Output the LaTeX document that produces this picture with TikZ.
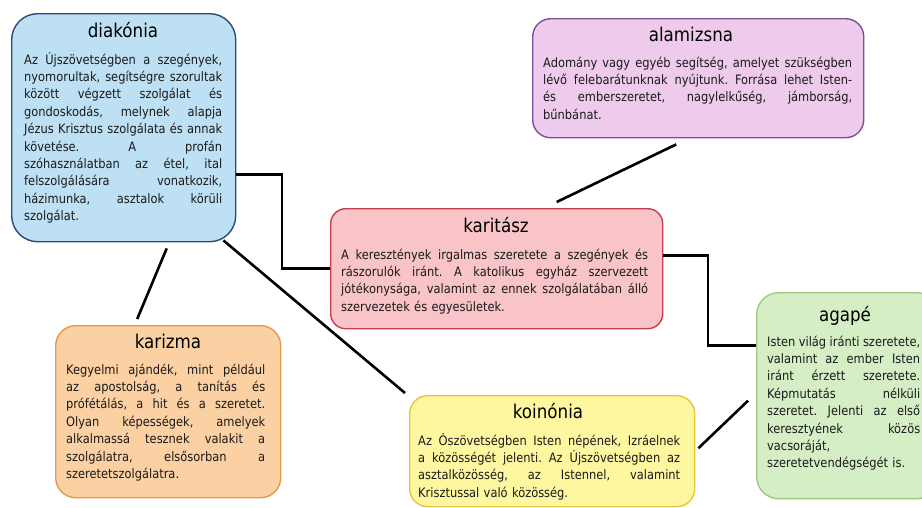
\documentclass[tikz,border=0pt]{standalone}
\usepackage{fontspec}
\setmainfont{DejaVu Sans}[FakeStretch=0.88]
\usetikzlibrary{calc}
\definecolor{diakF}{HTML}{BEE0F4}\definecolor{diakD}{HTML}{2B4A78}
\definecolor{alamF}{HTML}{EECBEC}\definecolor{alamD}{HTML}{7B4F9D}
\definecolor{karitF}{HTML}{F9C4C8}\definecolor{karitD}{HTML}{C63D4B}
\definecolor{karizF}{HTML}{FBD0A2}\definecolor{karizD}{HTML}{E39A4D}
\definecolor{koinF}{HTML}{FFF6A0}\definecolor{koinD}{HTML}{E5C53A}
\definecolor{agapeF}{HTML}{D6EEC6}\definecolor{agapeD}{HTML}{9DCB7E}
\definecolor{txt}{HTML}{1A1A1A}
\newcommand\JJ[1]{\leavevmode\hbox to \hsize{\spaceskip=0.28em plus 20em minus 0.06em\xspaceskip=\spaceskip #1}\par}
\newcommand\LL[1]{\leavevmode\hbox{#1}\par}
\tikzset{
  box/.style={draw, line width=1.4pt, inner sep=0pt, anchor=north west},
  ttl/.style={anchor=base, inner sep=0pt, text=black, font=\fontsize{19}{21}\selectfont},
  body/.style={anchor=base west, inner sep=0pt, align=left, text=txt, font=\frenchspacing\fontsize{13}{17.4}\selectfont},
  conn/.style={line width=2.6pt, black}
}
\begin{document}
\begin{tikzpicture}[x=1pt,y=1pt]
\useasboundingbox[fill=white] (0,0) rectangle (922,-507);
% boxes
\node[box, fill=diakF, draw=diakD, rounded corners=26pt, minimum width=224pt, minimum height=228pt] (diak) at (11,-13) {};
\node[box, fill=alamF, draw=alamD, rounded corners=18pt, minimum width=331pt, minimum height=119pt] (alam) at (532,-18) {};
\node[box, fill=karitF, draw=karitD, rounded corners=15pt, minimum width=332pt, minimum height=120pt] (karit) at (330,-208) {};
\node[box, fill=karizF, draw=karizD, rounded corners=20pt, minimum width=225pt, minimum height=172pt] (kariz) at (55,-325) {};
\node[box, fill=koinF, draw=koinD, rounded corners=18pt, minimum width=285pt, minimum height=111pt] (koin) at (409,-395) {};
\node[box, fill=agapeF, draw=agapeD, rounded corners=22pt, minimum width=182pt, minimum height=206pt] (agape) at (756,-292) {};
% titles
\node[ttl] (diakT) at (123,-37) {diakónia};
\node[ttl] (alamT) at (691,-41) {alamizsna};
\node[ttl] (karitT) at (496,-232) {karitász};
\node[ttl] (karizT) at (168,-348) {karizma};
\node[ttl] (koinT) at (548,-418) {koinónia};
\node[ttl] (agapeT) at (845,-321) {agapé};
% bodies
\node[body, text width=198pt] (diakB) at (24,-64) {%
\JJ{Az Újszövetségben a szegények,}
\JJ{nyomorultak, segítségre szorultak}
\JJ{között végzett szolgálat és}
\JJ{gondoskodás, melynek alapja}
\JJ{Jézus Krisztus szolgálata és annak}
\JJ{követése. A profán}
\JJ{szóhasználatban az étel, ital}
\JJ{felszolgálására vonatkozik,}
\JJ{házimunka, asztalok körüli}
\LL{szolgálat.}};
\node[body, text width=309pt] (alamB) at (543,-67) {%
\JJ{Adomány vagy egyéb segítség, amelyet szükségben}
\JJ{lévő felebarátunknak nyújtunk. Forrása lehet Isten-}
\JJ{és emberszeretet, nagylelkűség, jámborság,}
\LL{bűnbánat.}};
\node[body, text width=307pt] (karitB) at (341,-259) {%
\JJ{A keresztények irgalmas szeretete a szegények és}
\JJ{rászorulók iránt. A katolikus egyház szervezett}
\JJ{jótékonysága, valamint az ennek szolgálatában álló}
\LL{szervezetek és egyesületek.}};
\node[body, text width=199pt] (karizB) at (66,-374) {%
\JJ{Kegyelmi ajándék, mint például}
\JJ{az apostolság, a tanítás és}
\JJ{prófétálás, a hit és a szeretet.}
\JJ{Olyan képességek, amelyek}
\JJ{alkalmassá tesznek valakit a}
\JJ{szolgálatra, elsősorban a}
\LL{szeretetszolgálatra.}};
\node[body, text width=262pt] (koinB) at (418,-445) {%
\JJ{Az Ószövetségben Isten népének, Izráelnek}
\JJ{a közösségét jelenti. Az Újszövetségben az}
\JJ{asztalközösség, az Istennel, valamint}
\LL{Krisztussal való közösség.}};
\node[body, text width=153pt] (agapeB) at (767,-346) {%
\JJ{Isten világ iránti szeretete,}
\JJ{valamint az ember Isten}
\JJ{iránt érzett szeretete.}
\JJ{Képmutatás nélküli}
\JJ{szeretet. Jelenti az első}
\JJ{keresztyének közös}
\LL{vacsoráját,}
\LL{szeretetvendégségét is.}};
% connectors
\draw[conn] ([yshift=-47pt]diak.east) -| ([xshift=-48pt]karit.west) -- (karit.west);
\draw[conn] ([yshift=13pt]karit.east) -| ([xshift=-48pt,yshift=50pt]agape.west) -- ([yshift=50pt]agape.west);
\draw[conn] ([xshift=-22pt,yshift=-6pt]alam.south) -- ([xshift=60pt,yshift=6pt]karit.north);
\draw[conn] ([xshift=43pt,yshift=-6pt]diak.south) -- ([xshift=-31pt,yshift=6pt]kariz.north);
\draw[conn] ([xshift=-13pt,yshift=2pt]diak.south east) -- ([xshift=-4pt,yshift=2pt]koin.north west);
\draw[conn] ([xshift=3pt,yshift=3pt]koin.east) -- ([xshift=-8pt,yshift=-5pt]agape.west);
\end{tikzpicture}
\end{document}
